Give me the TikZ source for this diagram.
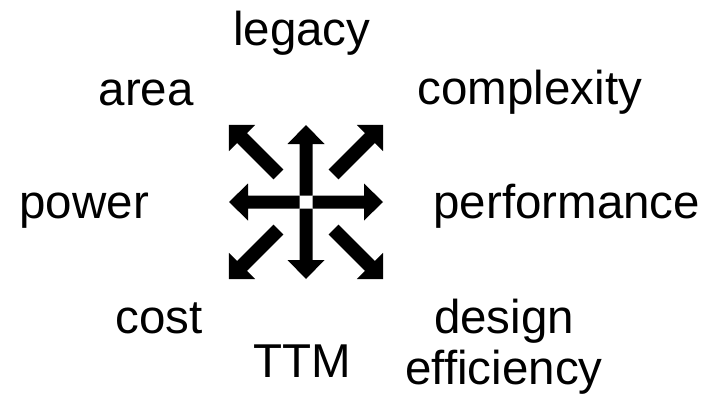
\documentclass[tikz,border=0pt]{standalone}
\usepackage{fontspec}
\setmainfont{Liberation Sans}

\begin{document}
\begin{tikzpicture}[x=1pt,y=-1pt,
  factor/.style={font=\fontsize{47.5}{50.7}\selectfont, inner sep=0pt, anchor=base},
  spoke/.style={fill=black}]
  \useasboundingbox (0,0) rectangle (715,399);

  \coordinate (hub) at (306,202);

  % the four straight arrows
  \foreach \a in {0,90,180,270}
    \fill[spoke, shift={(hub)}, rotate=\a]
      (6.5,-6.5) -- (58,-6.5) -- (58,-18.5) -- (77,0)
      -- (58,18.5) -- (58,6.5) -- (6.5,6.5) -- cycle;
  % the four corner arrows
  \foreach \a in {45,135,225,315}
    \fill[spoke, shift={(hub)}, rotate=\a]
      (39,-7) -- (90.5,-7) -- (90.5,-18.4) -- (108.9,0)
      -- (90.5,18.4) -- (90.5,7) -- (39,7) -- cycle;

  \node[factor] (legacy)      at (301.7,45)  {legacy};
  \node[factor] (area)        at (146.2,105) {area};
  \node[factor] (complexity)  at (529.9,104.3) {complexity};
  \node[factor] (power)       at (84.2,218.3) {power};
  \node[factor] (performance) at (566.7,218.3) {performance};
  \node[factor] (cost)        at (159,333.3) {cost};
  \node[factor] (ttm)         at (302.5,377.3) {TTM};
  % base of a two-line node sits on its last line
  \node[factor, align=center] (design) at (504,384) {design\\efficiency};
\end{tikzpicture}
\end{document}
